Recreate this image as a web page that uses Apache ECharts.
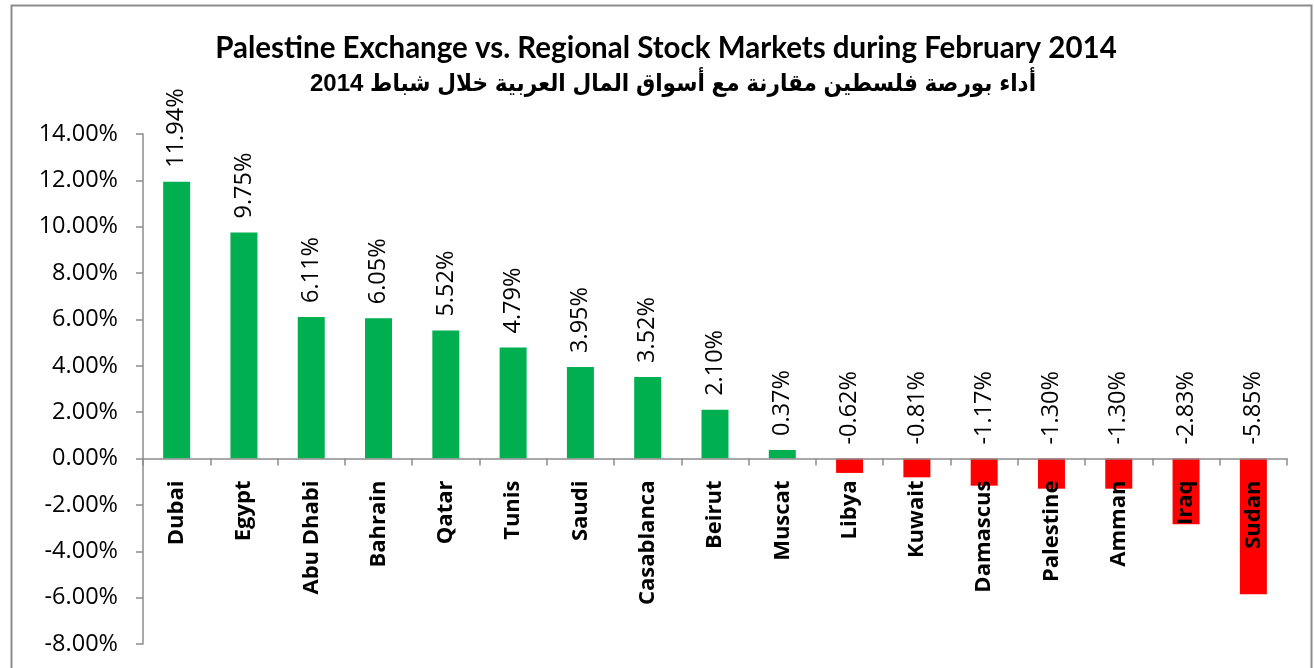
<!DOCTYPE html>
<html>
<head>
<meta charset="utf-8">
<script src="https://cdn.jsdelivr.net/npm/echarts@6/dist/echarts.min.js"></script>
<style>html,body{margin:0;padding:0;background:#fff}#c{width:1314px;height:668px}</style>
</head>
<body>
<div id="c"></div>
<script>
const titleEn = 'Palestine Exchange vs. Regional Stock Markets during February 2014';
const titleAr = 'أداء بورصة فلسطين مقارنة مع أسواق المال العربية خلال شباط 2014';
const categories = ['Dubai','Egypt','Abu Dhabi','Bahrain','Qatar','Tunis','Saudi','Casablanca','Beirut','Muscat','Libya','Kuwait','Damascus','Palestine','Amman','Iraq','Sudan'];
const values = [11.94, 9.75, 6.11, 6.05, 5.52, 4.79, 3.95, 3.52, 2.10, 0.37, -0.62, -0.81, -1.17, -1.30, -1.30, -2.83, -5.85];
const yMin = -8, yMax = 14, yStep = 2;

const gridTop = 134, gridBottom = 24, H = 668;
const plotH = H - gridTop - gridBottom;
const zeroOffset = -plotH * (0 - yMin) / (yMax - yMin);

const chart = echarts.init(document.getElementById('c'));
chart.setOption({
  animation: false,
  backgroundColor: '#fff',
  graphic: [{
    type: 'rect', left: 9, top: 3, z: -1,
    shape: { x: 0, y: 0, width: 1300, height: 700 },
    style: { fill: 'none', stroke: '#8c8c8c', lineWidth: 2 }
  }],
  title: [{
    text: titleEn, left: 661, textAlign: 'center', top: 28,
    textStyle: { fontFamily: 'Lato', fontWeight: 'bold', fontSize: 29.5, color: '#000' }
  }, {
    text: titleAr, left: 668, textAlign: 'center', top: 67,
    textStyle: { fontFamily: 'Liberation Sans, DejaVu Sans Condensed, DejaVu Sans', fontWeight: 'bold', fontSize: 24, color: '#000' }
  }],
  grid: { left: 143, right: 27, top: gridTop, bottom: gridBottom, containLabel: false, outerBoundsMode: 'none' },
  xAxis: {
    type: 'category', data: categories, z: 10, position: 'bottom', offset: zeroOffset,
    axisLine: { onZero: false, lineStyle: { color: '#8c8c8c', width: 1.5 } },
    axisTick: { show: true, length: 7, inside: false, lineStyle: { color: '#8c8c8c', width: 1.5 } },
    axisLabel: { rotate: 90, margin: 22, fontFamily: 'Open Sans', fontWeight: 'bold', fontSize: 22, color: '#000', interval: 0 }
  },
  yAxis: {
    type: 'value', min: yMin, max: yMax, interval: yStep,
    splitLine: { show: false },
    axisLine: { show: true, lineStyle: { color: '#8c8c8c', width: 1.5 } },
    axisTick: { show: true, length: 7, lineStyle: { color: '#8c8c8c', width: 1.5 } },
    axisLabel: { margin: 25, fontFamily: 'Open Sans', fontSize: 23.5, color: '#000', formatter: v => v.toFixed(2) + '%' }
  },
  series: [{
    type: 'bar', barWidth: 27,
    data: values.map(v => ({ value: v, itemStyle: { color: v >= 0 ? '#00B050' : '#FF0000' } })),
    label: {
      show: true, position: 'top', rotate: 90, align: 'left', verticalAlign: 'middle', distance: 14,
      fontFamily: 'Open Sans', fontSize: 23.5, color: '#000',
      formatter: p => p.value.toFixed(2) + '%'
    }
  }]
});
</script>
</body>
</html>
